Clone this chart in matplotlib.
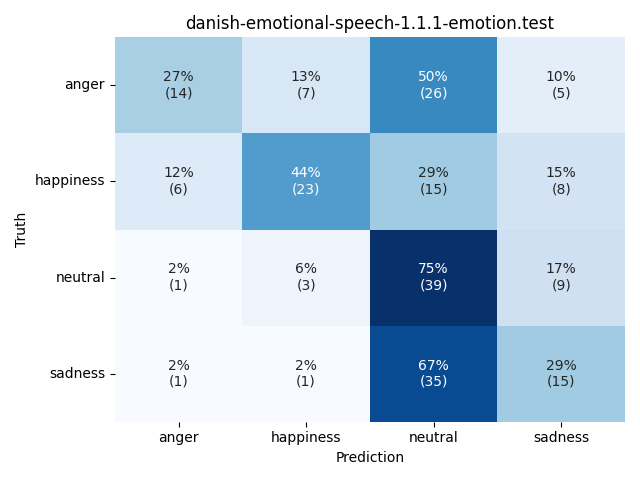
import matplotlib
matplotlib.use("Agg")
import matplotlib.pyplot as plt
import numpy as np
import seaborn as sns

labels = ["anger", "happiness", "neutral", "sadness"]
counts = [
    [14, 7, 26, 5],
    [6, 23, 15, 8],
    [1, 3, 39, 9],
    [1, 1, 35, 15],
]
title = "danish-emotional-speech-1.1.1-emotion.test"

cm = np.array(counts, dtype=float)
pct = cm / cm.sum(axis=1, keepdims=True) * 100
annot = np.array([[f"{p:.0f}%\n({int(c)})" for p, c in zip(prow, crow)]
                  for prow, crow in zip(pct, cm)])

fig, ax = plt.subplots(figsize=(6.4, 4.8), dpi=100)
sns.heatmap(pct, annot=annot, fmt="", cmap="Blues", cbar=False,
            xticklabels=labels, yticklabels=labels, ax=ax)
ax.set_xlabel("Prediction")
ax.set_ylabel("Truth")
ax.set_title(title)
plt.yticks(rotation=0)
plt.tight_layout()
fig.savefig("out.png")
